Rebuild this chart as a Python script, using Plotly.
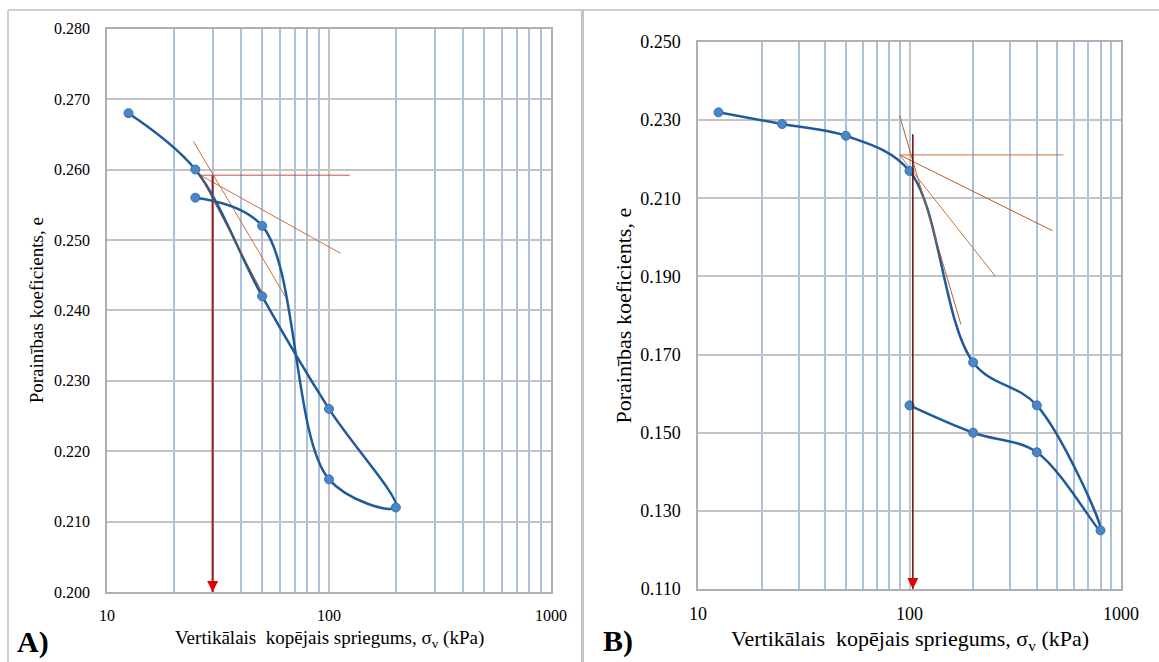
import numpy as np
import plotly.graph_objects as go

# A) loading + unloading (one smoothed series, as drawn in the sheet)
stress_a = [12.5, 25, 50, 100, 200, 100, 50, 25]
void_a = [0.268, 0.260, 0.242, 0.226, 0.212, 0.216, 0.252, 0.256]

# B) loading + unloading
stress_b = [12.5, 25, 50, 100, 200, 400, 800, 400, 200, 100]
void_b = [0.232, 0.229, 0.226, 0.217, 0.168, 0.157, 0.125, 0.145, 0.150, 0.157]

# Casagrande construction lines, A
a_horiz_x, a_horiz_e = [26.3, 124], [0.2592, 0.2592]
a_tan_x, a_tan_e = [26.3, 112.7], [0.2592, 0.2481]
a_bis_x, a_bis_e = [24.5, 64], [0.2640, 0.2418]
a_virgin_x, a_virgin_e = [26.3, 50], [0.2592, 0.2425]
a_pc_x, a_pc_e = [29.9, 29.9], [0.2592, 0.200]

# Casagrande construction lines, B
b_horiz_x, b_horiz_e = [89.8, 534], [0.2211, 0.2211]
b_tan_x, b_tan_e = [89.8, 474], [0.2211, 0.2017]
b_bis_x, b_bis_e = [89.8, 255], [0.2211, 0.190]
b_virgin_x, b_virgin_e = [89.8, 175], [0.2311, 0.1777]
b_pc_x, b_pc_e = [103.7, 103.7], [0.2264, 0.110]

x_ticks = [10, 100, 1000]
x_minor = [20, 30, 40, 50, 60, 70, 80, 90, 200, 300, 400, 500, 600, 700, 800, 900]
y_ticks_a = [0.200, 0.210, 0.220, 0.230, 0.240, 0.250, 0.260, 0.270, 0.280]
y_ticks_b = [0.110, 0.130, 0.150, 0.170, 0.190, 0.210, 0.230, 0.250]

W, H = 1159, 662
FONT = 'Liberation Serif, Times New Roman, serif'
curve_color = '#1f5a99'
marker_color = '#4a86c8'
orange = '#c8733a'

fig = go.Figure()


def add_line(x, y, color, width, xa, ya):
    fig.add_trace(go.Scatter(x=x, y=y, mode='lines', xaxis=xa, yaxis=ya,
                             line=dict(color=color, width=width),
                             showlegend=False, hoverinfo='skip'))


# construction lines A
add_line(a_horiz_x, a_horiz_e, '#c0504d', 1, 'x', 'y')
add_line(a_tan_x, a_tan_e, orange, 1, 'x', 'y')
add_line(a_bis_x, a_bis_e, orange, 1, 'x', 'y')
add_line(a_pc_x, a_pc_e, '#9b1c1c', 2, 'x', 'y')

# construction lines B
add_line(b_horiz_x, b_horiz_e, orange, 1, 'x2', 'y2')
add_line(b_tan_x, b_tan_e, '#b85a25', 1, 'x2', 'y2')
add_line(b_bis_x, b_bis_e, orange, 1, 'x2', 'y2')

# curves
for xs, ys, xa, ya in [(stress_a, void_a, 'x', 'y'), (stress_b, void_b, 'x2', 'y2')]:
    fig.add_trace(go.Scatter(
        x=xs, y=ys, xaxis=xa, yaxis=ya, mode='lines+markers',
        line=dict(color=curve_color, width=2.5, shape='spline', smoothing=1),
        marker=dict(size=9, color=marker_color, line=dict(color='#3b6fae', width=1)),
        showlegend=False, cliponaxis=False))

add_line(a_virgin_x, a_virgin_e, '#8b4a2b', 1, 'x', 'y')
add_line(b_virgin_x, b_virgin_e, '#b8622a', 1, 'x2', 'y2')
add_line(b_pc_x, b_pc_e, '#5c1010', 1.5, 'x2', 'y2')

# red arrowheads at the bottom of the pre-consolidation verticals
for px, pe, xr, yr in [(a_pc_x[1], a_pc_e[1], 'x', 'y'), (b_pc_x[1], b_pc_e[1], 'x2', 'y2')]:
    fig.add_annotation(x=np.log10(px), y=pe, xref=xr, yref=yr, ax=0, ay=-14,
                       showarrow=True, arrowhead=2, arrowsize=1.1, arrowwidth=2,
                       arrowcolor='#e00000', text=' ')

grid_gray = '#c3c3c3'
grid_blue = '#a9c1dc'


def x_axis(dom, anchor, size):
    return dict(type='log', range=[1, 3], domain=dom, anchor=anchor, automargin=False,
                tickvals=x_ticks, ticktext=[str(v) for v in x_ticks],
                showgrid=True, gridcolor=grid_gray, gridwidth=1.5,
                minor=dict(tickmode='array', tickvals=x_minor, showgrid=True,
                           gridcolor=grid_blue, gridwidth=2),
                showline=True, mirror=True, linecolor='#b0b0b0', linewidth=1.5,
                ticks='', ticklabelstandoff=8, zeroline=False,
                tickfont=dict(family=FONT, size=size, color='black'))


def y_axis(dom, anchor, rng, vals, size):
    return dict(range=rng, domain=dom, anchor=anchor, tickvals=vals, automargin=False,
                ticktext=['%.3f' % v for v in vals],
                showgrid=True, gridcolor=grid_gray, gridwidth=1.5,
                showline=True, mirror=True, linecolor='#b0b0b0', linewidth=1.5,
                ticks='', ticklabelstandoff=12, zeroline=False,
                tickfont=dict(family=FONT, size=size, color='black'))


ya_dom = [1 - 592 / H, 1 - 28.7 / H]
yb_dom = [1 - 589 / H, 1 - 42 / H]
xa_dom = [107 / W, 551 / W]
xb_dom = [698 / W, 1121 / W]

fig.update_layout(
    width=W, height=H, margin=dict(l=0, r=0, t=0, b=0, autoexpand=False),
    paper_bgcolor='white', plot_bgcolor='white', showlegend=False,
    font=dict(family=FONT, color='black'),
    xaxis=x_axis(xa_dom, 'y', 16),
    yaxis=y_axis(ya_dom, 'x', [0.200, 0.280], y_ticks_a, 16),
    xaxis2=x_axis(xb_dom, 'y2', 18),
    yaxis2=y_axis(yb_dom, 'x2', [0.110, 0.250], y_ticks_b, 18),
)

x_title = 'Vertikālais\u00a0 kopējais spriegums, σ<sub>v</sub> (kPa)'
y_title = 'Porainības koeficients, e'


def label(text, xref, yref, x, y, size, angle=0):
    fig.add_annotation(text=text, xref=xref, yref=yref, x=x, y=y, textangle=angle,
                       xanchor='center', yanchor='middle', showarrow=False,
                       font=dict(family=FONT, size=size, color='black'))


label(x_title, 'x domain', 'paper', 0.5, 1 - 639 / H, 19)
label(x_title, 'x2 domain', 'paper', 0.5, 1 - 640 / H, 22)
label(y_title, 'paper', 'y domain', 36 / W, 0.5, 19, -90)
label(y_title, 'paper', 'y2 domain', 623 / W, 0.5, 22, -90)
label('<b>A)</b>', 'paper', 'paper', 33 / W, 1 - 642 / H, 30)
label('<b>B)</b>', 'paper', 'paper', 618 / W, 1 - 641 / H, 30)

# table-like frame around the two panels
frame = '#cfcfcf'
fig.add_shape(type='line', xref='paper', yref='paper', x0=8 / W, x1=1, y0=1 - 10 / H, y1=1 - 10 / H,
              line=dict(color=frame, width=2))
fig.add_shape(type='line', xref='paper', yref='paper', x0=8 / W, x1=8 / W, y0=0, y1=1 - 10 / H,
              line=dict(color=frame, width=2))
fig.add_shape(type='line', xref='paper', yref='paper', x0=582.5 / W, x1=582.5 / W, y0=0, y1=1 - 10 / H,
              line=dict(color='#c4c4c4', width=3))

fig.write_html('out.html', config={'displayModeBar': False},
               post_script="document.body.style.margin='0';")
